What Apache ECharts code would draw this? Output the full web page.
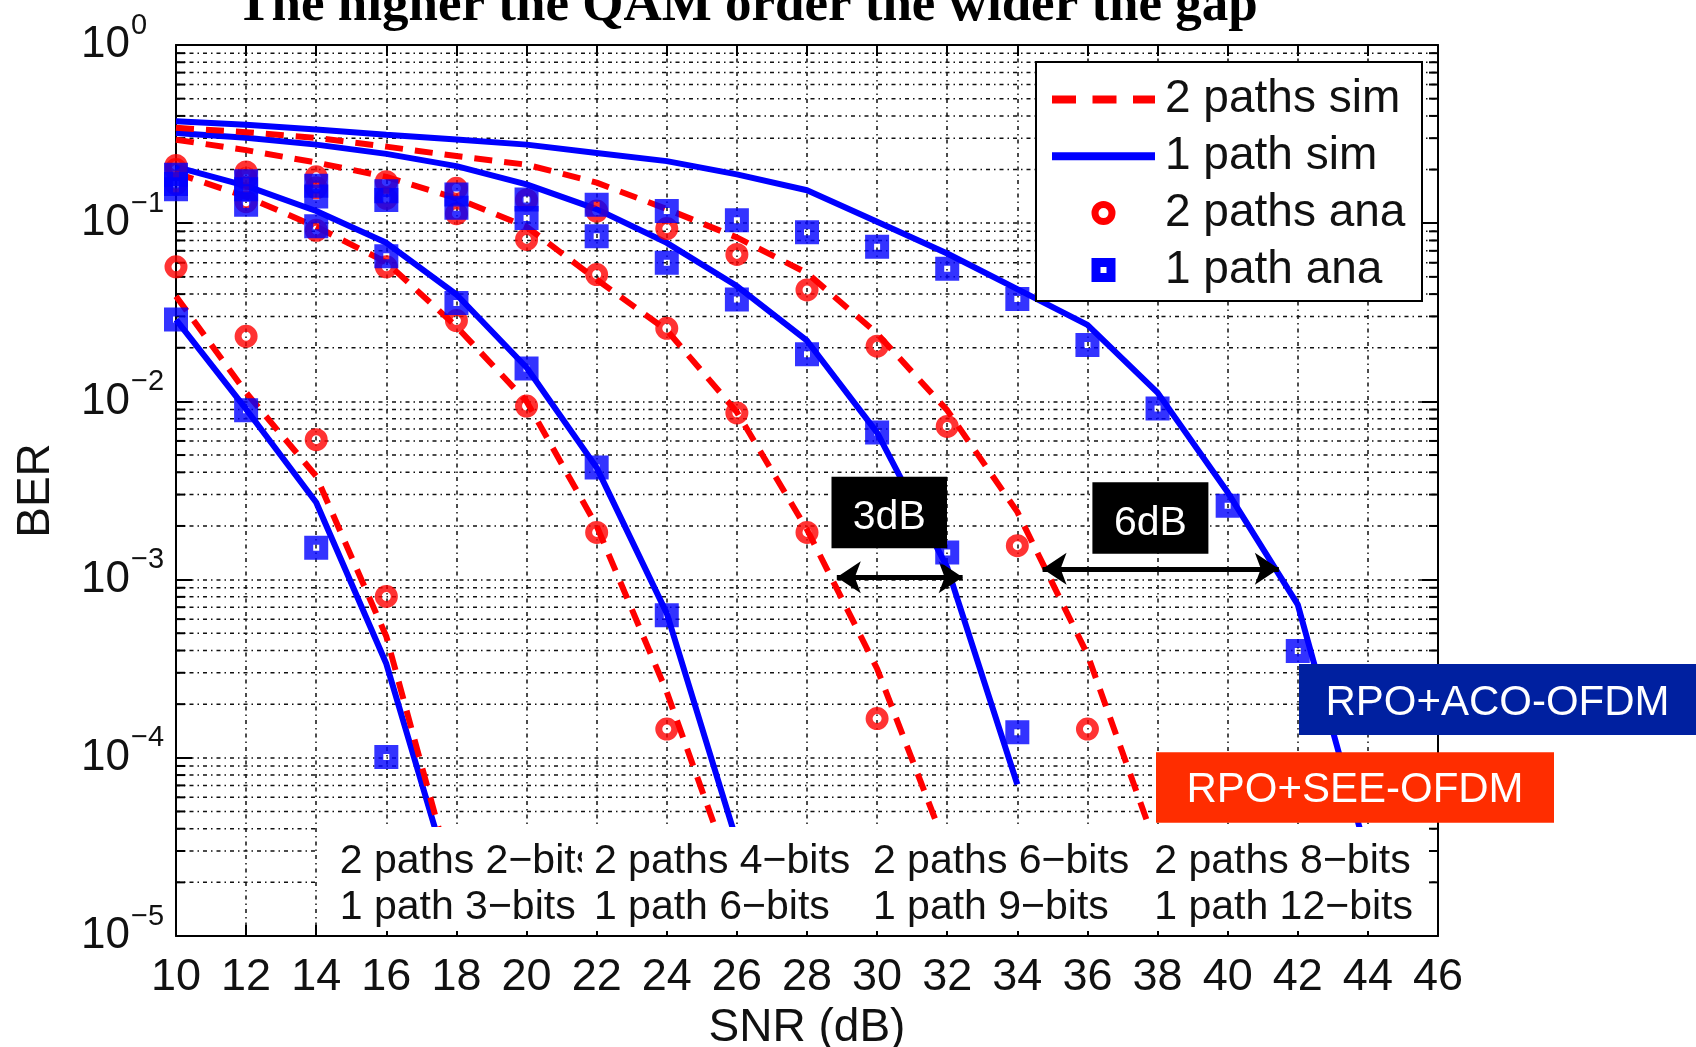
<!DOCTYPE html>
<html>
<head>
<meta charset="utf-8">
<title>BER vs SNR</title>
<script src="https://cdn.jsdelivr.net/npm/echarts@6/dist/echarts.min.js"></script>
<style>
  html, body { margin: 0; padding: 0; background: #fff; }
  #chart { width: 1696px; height: 1047px; }
</style>
</head>
<body>
<div id="chart"></div>
<script>
// ---- data -------------------------------------------------------------
// SNR grid (dB); each curve starts at 10 dB and runs as far as its values go
const snr = [10, 12, 14, 16, 18, 20, 22, 24, 26, 28, 30, 32, 34, 36, 38, 40, 42, 44, 46];

// simulated BER, 1 path (solid blue)
const sim1path3  = [0.0288, 0.00904, 0.00271, 3.37e-4, 1.58e-5];
const sim1path6  = [0.207, 0.162, 0.117, 0.0776, 0.0398, 0.0155, 0.00425, 6.46e-4, 3.39e-5];
const sim1path9  = [0.321, 0.302, 0.276, 0.245, 0.209, 0.165, 0.120, 0.0776, 0.0444, 0.0219, 0.00668, 0.00117, 7.08e-5];
const sim1path12 = [0.373, 0.357, 0.336, 0.314, 0.295, 0.276, 0.248, 0.223, 0.188, 0.153, 0.102, 0.0676, 0.0427, 0.0269, 0.0112, 0.00309, 7.24e-4, 2.75e-5];

// simulated BER, 2 paths (dashed red)
const sim2paths2 = [0.0389, 0.0112, 0.00380, 4.79e-4, 1.74e-5];
const sim2paths4 = [0.191, 0.141, 0.0955, 0.0603, 0.0263, 0.0100, 0.00200, 2.34e-4, 1.86e-5];
const sim2paths6 = [0.294, 0.257, 0.219, 0.182, 0.138, 0.0955, 0.0483, 0.0251, 0.00871, 0.00191, 3.16e-4, 3.02e-5];
const sim2paths8 = [0.343, 0.324, 0.301, 0.269, 0.238, 0.213, 0.169, 0.120, 0.0832, 0.0525, 0.0240, 0.00891, 0.00240, 3.80e-4, 3.02e-5];

// analytical BER, 1 path (blue squares)
const ana1path3  = [0.0288, 0.00891, 0.00151, 1.01e-4];
const ana1path6  = [0.155, 0.127, 0.0962, 0.0653, 0.0357, 0.0153, 0.00425, 6.31e-4];
const ana1path9  = [0.166, 0.155, 0.141, 0.135, 0.122, 0.107, 0.0845, 0.0600, 0.0373, 0.0184, 0.00668, 0.00142, 1.39e-4];
const ana1path12 = [0.187, 0.172, 0.162, 0.151, 0.145, 0.136, 0.127, 0.117, 0.104, 0.0891, 0.0738, 0.0556, 0.0376, 0.0207, 0.00912, 0.00260, 3.98e-4];

// analytical BER, 2 paths (red circles)
const ana2paths2 = [0.0569, 0.0232, 0.00610, 8.04e-4];
const ana2paths4 = [0.166, 0.132, 0.0912, 0.0569, 0.0284, 0.00942, 0.00184, 1.45e-4];
const ana2paths6 = [0.200, 0.178, 0.158, 0.138, 0.113, 0.0811, 0.0515, 0.0257, 0.00861, 0.00184, 1.66e-4];
const ana2paths8 = [0.211, 0.194, 0.182, 0.171, 0.157, 0.135, 0.117, 0.0933, 0.0668, 0.0422, 0.0204, 0.00724, 0.00155, 1.45e-4];

// SNR gaps marked with double arrows: [from dB, to dB, BER level]
const gap3dB = [28.85, 32.44, 1.03e-3];
const gap6dB = [34.72, 41.46, 1.15e-3];

// axis ranges and ticks
const xMin = 10, xMax = 46, xStep = 2;
const berMin = 1e-5, berMax = 1;
const decades = [-5, -4, -3, -2, -1];
const minorMantissas = [2, 3, 4, 5, 6, 7, 8, 9];

// text
const titleText = 'The higher the QAM order the wider the gap';
const legendNames = ['2 paths sim', '1 path sim', '2 paths ana', '1 path ana'];
const captionsTop = ['2 paths 2\u2212bits', '2 paths 4\u2212bits', '2 paths 6\u2212bits', '2 paths 8\u2212bits'];
const captionsBottom = ['1 path 3\u2212bits', '1 path 6\u2212bits', '1 path 9\u2212bits', '1 path 12\u2212bits'];

// ---- styling ------------------------------------------------------------
const FONT = '"Liberation Sans", Arial, sans-serif';
const RED = '#ff0000', BLUE = '#0000ff', INK = '#111111';
const gridDash = [4, 4, 1.5, 4];

const minorTicks = [];
decades.forEach(d => minorMantissas.forEach(m => minorTicks.push(m * Math.pow(10, d))));

const pairs = vals => vals.map((v, i) => [snr[i], v]);

const simSeries = (vals, dashed) => ({
  type: 'line',
  name: dashed ? legendNames[0] : legendNames[1],
  data: pairs(vals),
  symbol: 'none',
  z: dashed ? 3 : 2,
  silent: true,
  lineStyle: { color: dashed ? RED : BLUE, width: 6, type: dashed ? [18, 12] : 'solid', cap: 'butt' }
});

const anaSeries = (vals, circle) => ({
  type: 'scatter',
  name: circle ? legendNames[2] : legendNames[3],
  data: pairs(vals),
  z: circle ? 4 : 5,
  silent: true,
  symbol: circle ? 'circle' : 'rect',
  symbolSize: circle ? 16 : 15,
  itemStyle: { color: 'rgba(0,0,0,0)', borderColor: circle ? RED : BLUE, borderWidth: circle ? 7 : 9 }
});

const chart = echarts.init(document.getElementById('chart'), null, { renderer: 'canvas', width: 1696, height: 1047 });

const exponentOf = v => Math.round(Math.log10(v));

// plot frame (pixels)
const plot = { left: 176, top: 45, width: 1262, height: 891 };

// legend layout
const lg = { x: 1036, y: 62, w: 386, h: 239, rowH: 56.8, sampleX0: 1052, sampleX1: 1155, textX: 1165 };
const rowY = i => lg.y + 37.5 + i * lg.rowH;
const lgMid = (lg.sampleX0 + lg.sampleX1) / 2;

const legendElements = [
  { type: 'rect', shape: { x: lg.x, y: lg.y, width: lg.w, height: lg.h }, style: { fill: '#fff', stroke: '#000', lineWidth: 2 }, z: 110 },
  { type: 'line', shape: { x1: lg.sampleX0, y1: rowY(0), x2: lg.sampleX1, y2: rowY(0) }, style: { stroke: RED, lineWidth: 8, lineDash: [24, 16.5] }, z: 111 },
  { type: 'line', shape: { x1: lg.sampleX0, y1: rowY(1), x2: lg.sampleX1, y2: rowY(1) }, style: { stroke: BLUE, lineWidth: 8 }, z: 111 },
  { type: 'circle', shape: { cx: lgMid, cy: rowY(2), r: 8.5 }, style: { fill: 'none', stroke: RED, lineWidth: 7 }, z: 111 },
  { type: 'rect', shape: { x: lgMid - 7.5, y: rowY(3) - 7.5, width: 15, height: 15 }, style: { fill: 'none', stroke: BLUE, lineWidth: 9 }, z: 111 }
].concat(legendNames.map((n, i) => ({
  type: 'text', x: lg.textX, y: rowY(i), z: 111,
  style: { text: n, fontSize: 46, fontFamily: FONT, fill: INK, align: 'left', verticalAlign: 'middle' }
})));

// captions under the curves, each on a white background
const captionPad = 12;
const captionX = [340.7, 594.9, 873.9, 1155.2];
const captionRows = [861.3, 907.3];
const captionElements = [
  { type: 'rect', shape: { x: 318, y: 827, width: 1110, height: 104 }, style: { fill: '#fff' }, z: 100 }
];
captionX.forEach((x, i) => {
  [captionsTop[i], captionsBottom[i]].forEach((t, r) => {
    captionElements.push({
      type: 'text', x: x - captionPad - 1, y: captionRows[r], z: 101 + i,
      style: { text: t, fontSize: 41, fontFamily: FONT, fill: INK, align: 'left', verticalAlign: 'middle',
               backgroundColor: '#fff', padding: [2, 4, 2, captionPad] }
    });
  });
});

const tagBox = (x, y, w, h, fill, text, ty, fs) => ([
  { type: 'rect', shape: { x: x, y: y, width: w, height: h }, style: { fill: fill }, z: 120 },
  { type: 'text', x: x + w / 2, y: ty, z: 121,
    style: { text: text, fontSize: fs, fontFamily: FONT, fill: '#fff', align: 'center', verticalAlign: 'middle' } }
]);

const annotationElements = [].concat(
  tagBox(831.5, 476.7, 115.5, 71.6, '#000', '3dB', 518, 41),
  tagBox(1092.4, 482.3, 116, 71.4, '#000', '6dB', 523.5, 41),
  tagBox(1299, 664, 397, 71, '#0020a0', 'RPO+ACO-OFDM', 703, 42),
  tagBox(1156, 752.3, 398, 70.4, '#ff2d00', 'RPO+SEE-OFDM', 790, 42)
);

const titleElement = {
  type: 'text', x: 747, y: 6, z: 130,
  style: { text: titleText, fontSize: 53, fontWeight: 'bold', fontFamily: '"Liberation Serif", "Times New Roman", serif',
           fill: '#000', align: 'center', verticalAlign: 'middle' }
};

const xAxisBase = {
  type: 'value', min: xMin, max: xMax, interval: xStep,
  axisLine: { show: true, onZero: false, lineStyle: { color: '#000', width: 2 } },
  axisTick: { show: true, inside: true, length: 11, lineStyle: { color: '#000', width: 2 } }
};
const yAxisBase = {
  type: 'log', logBase: 10, min: berMin, max: berMax,
  axisLine: { show: true, onZero: false, lineStyle: { color: '#000', width: 2 } },
  axisTick: { show: true, inside: true, length: 16, lineStyle: { color: '#000', width: 2 } }
};

const option = {
  animation: false,
  backgroundColor: '#fff',
  grid: { left: plot.left, top: plot.top, width: plot.width, height: plot.height,
          containLabel: false, outerBoundsMode: 'none' },
  xAxis: [
    Object.assign({}, xAxisBase, {
      position: 'bottom',
      name: 'SNR (dB)', nameLocation: 'middle', nameGap: 66,
      nameTextStyle: { fontSize: 46, fontFamily: FONT, color: INK, lineHeight: 46 },
      axisLabel: { margin: 19, fontSize: 45, fontFamily: FONT, color: INK, lineHeight: 45 },
      splitLine: { show: true, lineStyle: { color: INK, width: 1.5, type: gridDash } }
    }),
    Object.assign({}, xAxisBase, { position: 'top', axisLabel: { show: false }, splitLine: { show: false } })
  ],
  yAxis: [
    // decade labels: the "10" mantissa
    Object.assign({}, yAxisBase, {
      position: 'left',
      name: 'BER', nameLocation: 'middle', nameGap: 117, nameRotate: 90,
      nameTextStyle: { fontSize: 46, fontFamily: FONT, color: INK, lineHeight: 46 },
      axisLabel: { margin: 95, align: 'left', verticalAlign: 'middle', fontSize: 44, lineHeight: 44,
                   fontFamily: FONT, color: INK, formatter: () => '10' },
      splitLine: { show: true, lineStyle: { color: INK, width: 1.5, type: gridDash } }
    }),
    Object.assign({}, yAxisBase, { position: 'right', axisLabel: { show: false }, splitLine: { show: false } }),
    // decade labels: the raised exponent
    Object.assign({}, yAxisBase, {
      position: 'left',
      axisLine: { show: false }, axisTick: { show: false }, splitLine: { show: false },
      axisLabel: { margin: 45, align: 'left', verticalAlign: 'bottom', fontSize: 29, lineHeight: 39,
                   fontFamily: FONT, color: INK,
                   formatter: v => { const e = exponentOf(v); return e === 0 ? '0' : '\u2212' + (-e); } }
    })
  ],
  graphic: { elements: [titleElement].concat(captionElements, annotationElements, legendElements) },
  series: [
    // minor log grid lines with their inside ticks on both vertical axes
    {
      type: 'custom', silent: true, z: 1,
      xAxisIndex: 0, yAxisIndex: 0,
      data: minorTicks.map(v => [xMin, v]),
      renderItem: (params, api) => {
        const v = api.value(1);
        const a = api.coord([xMin, v]);
        const b = api.coord([xMax, v]);
        return {
          type: 'group',
          children: [
            { type: 'line', shape: { x1: a[0], y1: a[1], x2: b[0], y2: b[1] }, style: { stroke: INK, lineWidth: 1.5, lineDash: gridDash } },
            { type: 'line', shape: { x1: a[0], y1: a[1], x2: a[0] + 9, y2: a[1] }, style: { stroke: '#000', lineWidth: 2 } },
            { type: 'line', shape: { x1: b[0] - 9, y1: b[1], x2: b[0], y2: b[1] }, style: { stroke: '#000', lineWidth: 2 } }
          ]
        };
      }
    },
    simSeries(sim1path3, false), simSeries(sim1path6, false), simSeries(sim1path9, false), simSeries(sim1path12, false),
    simSeries(sim2paths2, true), simSeries(sim2paths4, true), simSeries(sim2paths6, true), simSeries(sim2paths8, true),
    anaSeries(ana2paths2, true), anaSeries(ana2paths4, true), anaSeries(ana2paths6, true), anaSeries(ana2paths8, true),
    anaSeries(ana1path3, false), anaSeries(ana1path6, false), anaSeries(ana1path9, false), anaSeries(ana1path12, false),
    // gap arrows
    {
      type: 'line', name: 'gap', data: [], silent: true, z: 6,
      markLine: {
        silent: true, animation: false,
        symbol: ['arrow', 'arrow'], symbolSize: [24, 24],
        label: { show: false },
        lineStyle: { color: '#000', width: 5, type: 'solid' },
        itemStyle: { color: '#000' },
        data: [
          [{ coord: [gap3dB[0], gap3dB[2]] }, { coord: [gap3dB[1], gap3dB[2]] }],
          [{ coord: [gap6dB[0], gap6dB[2]] }, { coord: [gap6dB[1], gap6dB[2]] }]
        ]
      }
    }
  ]
};

chart.setOption(option);
</script>
</body>
</html>
